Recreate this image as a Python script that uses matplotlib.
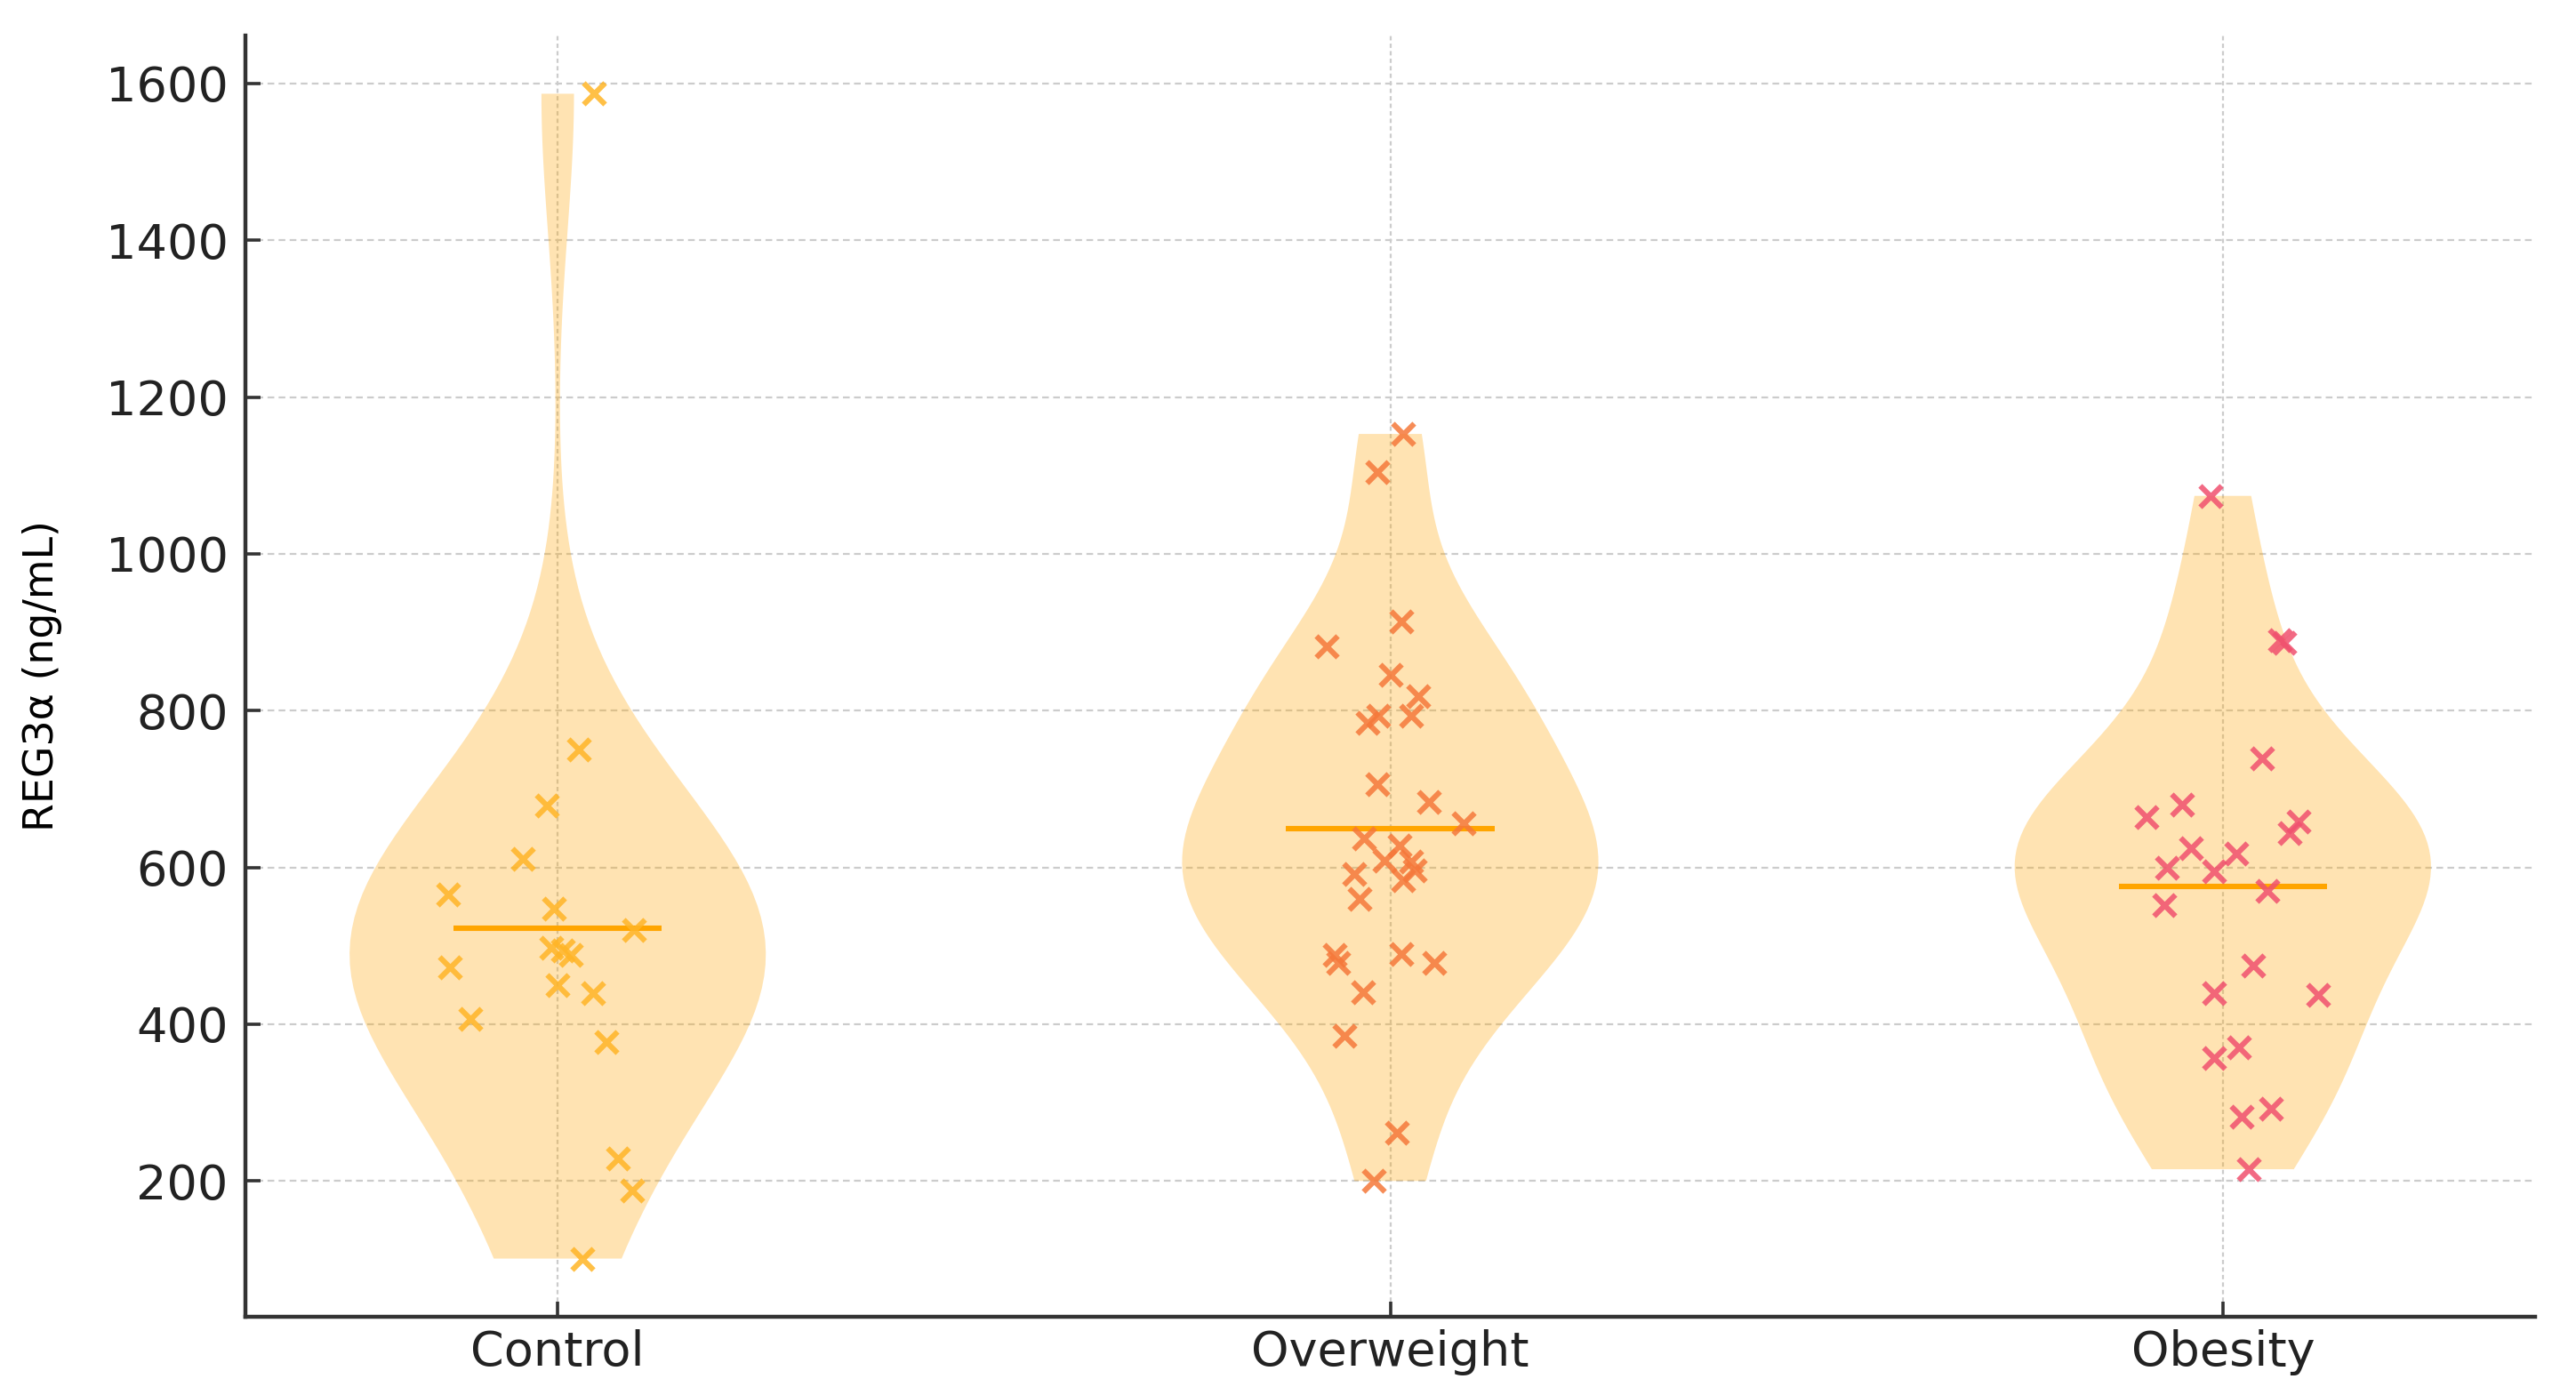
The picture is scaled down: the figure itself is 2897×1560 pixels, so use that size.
import numpy as np
import matplotlib.pyplot as plt

groups = ['Control', 'Overweight', 'Obesity']

# REG3a values (ng/mL), with the horizontal jitter of each point
control = [1587, 750, 679, 611, 566, 547, 520, 497, 494, 488, 473, 450, 440, 407,
           377, 229, 188, 101]
control_jit = [0.044, 0.025, -0.013, -0.042, -0.132, -0.005, 0.092, -0.008, 0.006,
               0.016, -0.129, 0.0, 0.042, -0.105, 0.059, 0.072, 0.090, 0.030]

overweight = [1153, 1104, 914, 882, 846, 818, 794, 785, 794, 706, 683, 656, 637,
              628, 609, 607, 596, 592, 584, 560, 488, 478, 490, 478, 441, 385,
              262, 200]
overweight_jit = [0.016, -0.015, 0.013, -0.076, 0.0, 0.034, -0.014, -0.027, 0.025,
                  -0.015, 0.046, 0.088, -0.032, 0.011, -0.007, 0.025, 0.029,
                  -0.043, 0.016, -0.037, -0.067, -0.063, 0.013, 0.053, -0.033,
                  -0.055, 0.008, -0.020]

obesity = [1074, 890, 887, 739, 680, 664, 658, 644, 625, 618, 600, 595, 570, 552,
           475, 440, 437, 371, 357, 292, 282, 215]
obesity_jit = [-0.015, 0.069, 0.074, 0.047, -0.049, -0.092, 0.091, 0.080, -0.038,
               0.016, -0.067, -0.010, 0.054, -0.070, 0.037, -0.011, 0.114, 0.019,
               -0.011, 0.058, 0.023, 0.031]

values = [control, overweight, obesity]
jitter = [control_jit, overweight_jit, obesity_jit]
point_colors = ['#FFB526', '#F5783A', '#F0506E']

fig = plt.figure(figsize=(14.485, 7.8), dpi=200)
ax = fig.add_axes([0.0953, 0.0506, 0.8888, 0.9238])
ax.set_axisbelow(True)
ax.grid(True, axis='y', color='#cccccc', linestyle=(0, (3.4, 2.2)), linewidth=0.8)
ax.grid(True, axis='x', color='#cccccc', linestyle=(0, (2.2, 1.6)), linewidth=0.8)

pos = np.arange(1, len(groups) + 1)
parts = ax.violinplot(values, positions=pos, widths=0.5,
                      showmeans=True, showextrema=False)
for body in parts['bodies']:
    body.set_facecolor('#FFA500')
    body.set_edgecolor('none')
    body.set_alpha(0.3)
parts['cmeans'].set_color('#FFA500')
parts['cmeans'].set_linewidth(2.2)

for p, vals, jit, c in zip(pos, values, jitter, point_colors):
    ax.scatter(p + np.array(jit), vals, marker='x', color=c, s=75,
               linewidths=2.2, alpha=0.85, zorder=3)

ax.set_xticks(pos)
ax.set_xticklabels(groups)
ax.set_xlim(0.625, 3.375)
ax.set_yticks(range(200, 1601, 200))
ax.set_ylabel('REG3α (ng/mL)', fontsize=16.5)
ax.yaxis.set_label_coords(-0.08, 0.5)

for s in ['top', 'right']:
    ax.spines[s].set_visible(False)
for s in ['left', 'bottom']:
    ax.spines[s].set_color('#333333')
    ax.spines[s].set_linewidth(1.6)
ax.tick_params(direction='in', length=6, width=1.3, color='#333333',
               labelsize=19.5, labelcolor='#222222')
ax.tick_params(axis='y', pad=7)
ax.tick_params(axis='x', pad=5)

fig.savefig('out.png', dpi=200)
